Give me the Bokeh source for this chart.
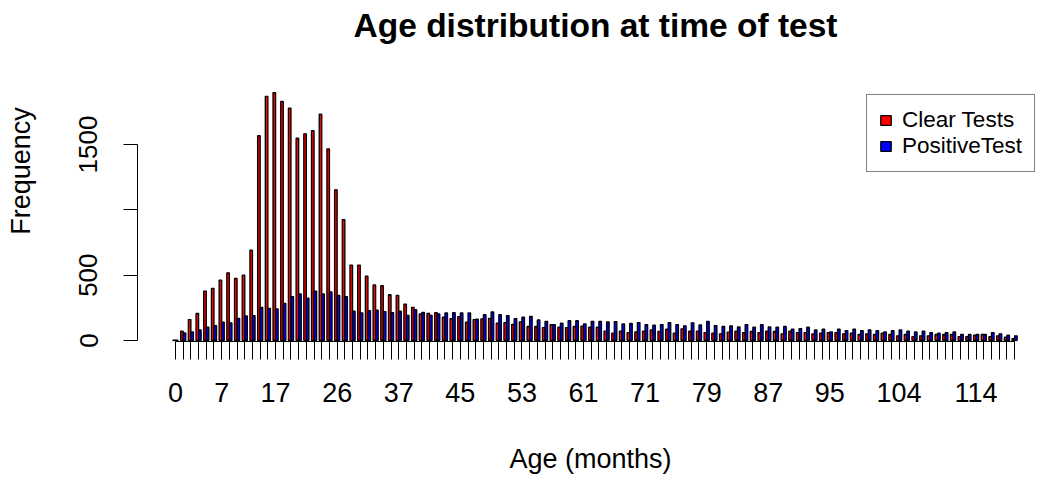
from bokeh.plotting import figure
from bokeh.models import Range1d, FixedTicker, Legend, LegendItem, Label, ColumnDataSource
from bokeh.embed import file_html
from bokeh.resources import INLINE

# ---------------- data ----------------
ages = [0, 1, 2, 3, 4, 6, 7, 8, 10, 11, 13, 14, 16, 17, 18, 19, 20, 21, 23, 24,
        25, 26, 27, 28, 30, 31, 33, 34, 36, 37, 38, 39, 40, 41, 42, 43, 44, 45, 46, 47,
        48, 49, 50, 51, 52, 53, 54, 55, 56, 57, 58, 59, 60, 61, 62, 63, 65, 66, 67, 69,
        70, 71, 72, 73, 74, 75, 76, 77, 78, 79, 80, 81, 82, 83, 84, 85, 86, 87, 88, 89,
        90, 91, 92, 93, 94, 95, 96, 97, 98, 99, 100, 101, 102, 103, 104, 105, 106, 107, 108, 109,
        110, 111, 112, 113, 114, 115, 116, 117, 118, 119]

clear_tests = [3, 71, 160, 208, 378, 399, 462, 518, 475, 500,
               691, 1567, 1869, 1897, 1829, 1778, 1549, 1582, 1605, 1732,
               1466, 1153, 925, 577, 577, 493, 425, 419, 350, 345,
               279, 254, 203, 208, 213, 178, 168, 183, 140, 160,
               165, 170, 132, 137, 124, 142, 107, 107, 99, 122,
               102, 99, 107, 110, 102, 102, 71, 56, 71, 61,
               66, 71, 81, 69, 86, 56, 89, 71, 71, 61,
               56, 51, 64, 71, 61, 69, 61, 71, 69, 51,
               71, 61, 61, 51, 56, 61, 61, 51, 56, 46,
               51, 46, 56, 46, 36, 46, 30, 36, 36, 46,
               46, 46, 30, 30, 41, 46, 30, 36, 25, 15]

positive_test = [2, 58, 66, 81, 102, 114, 140, 135, 170, 188,
                 190, 254, 246, 241, 284, 335, 356, 325, 378, 356,
                 371, 345, 335, 224, 211, 229, 232, 221, 213, 224,
                 193, 236, 216, 193, 203, 211, 213, 211, 211, 163,
                 198, 218, 198, 191, 168, 178, 185, 157, 147, 122,
                 132, 152, 152, 127, 147, 147, 142, 145, 127, 130,
                 137, 122, 117, 122, 137, 122, 112, 135, 119, 147,
                 114, 107, 112, 104, 122, 102, 122, 104, 102, 107,
                 86, 91, 102, 81, 86, 66, 86, 76, 86, 76,
                 81, 76, 66, 76, 81, 71, 66, 71, 61, 56,
                 61, 66, 46, 46, 46, 46, 61, 51, 41, 36]

shown_age_labels = ["0", "7", "17", "26", "37", "45", "53", "61", "71", "79",
                    "87", "95", "104", "114"]
y_ticks = [0, 500, 1000, 1500]
y_hidden = [1000]

series_names = ["Clear Tests", "PositiveTest"]
series_colors = ["red", "blue"]

# ---------------- layout ----------------
W, H = 1043, 478
left = 137
frame_bottom = 341
frame_w = W - left
ppu = 2.566          # pixels per bar unit
x0_px = 175          # canvas x of first group centre
x_start = 2 - (x0_px - left) / ppu
x_end = x_start + frame_w / ppu
py = 0.13067         # pixels per count
zero_px = 340
y_start = -(frame_bottom - zero_px) / py
y_end = zero_px / py

n = len(ages)
centers = [3 * i + 2 for i in range(n)]
src = ColumnDataSource(dict(
    xr=[c - 0.5 for c in centers],
    xb=[c + 0.5 for c in centers],
    clear=clear_tests,
    pos=positive_test,
))

FONT = "Liberation Sans"

p = figure(width=W, height=H, output_backend="svg", toolbar_location=None,
           x_range=Range1d(x_start, x_end), y_range=Range1d(y_start, y_end),
           min_border_left=left, min_border_right=0, min_border_top=0,
           min_border_bottom=H - frame_bottom)
p.outline_line_color = None
p.xgrid.visible = False
p.ygrid.visible = False
p.background_fill_color = "white"
p.border_fill_color = "white"

r1 = p.vbar(x="xr", top="clear", bottom=0, width=1, source=src,
            fill_color=series_colors[0], line_color="black", line_width=1.3)
r2 = p.vbar(x="xb", top="pos", bottom=0, width=1, source=src,
            fill_color=series_colors[1], line_color="black", line_width=1.3)

# x axis
xa = p.xaxis[0]
xa.ticker = FixedTicker(ticks=centers)
xa.major_label_overrides = {c: (str(a) if str(a) in shown_age_labels else "")
                            for c, a in zip(centers, ages)}
xa.bounds = (centers[0], centers[-1])
xa.major_tick_out = 18
xa.major_tick_in = 0
xa.minor_tick_line_color = None
xa.axis_line_color = "black"
xa.major_tick_line_color = "black"
xa.major_label_text_font = FONT
xa.major_label_text_font_size = "27px"
xa.major_label_text_color = "black"
xa.major_label_standoff = 23
xa.axis_label = "Age (months)"
xa.axis_label_text_font = FONT
xa.axis_label_text_font_size = "27px"
xa.axis_label_text_font_style = "normal"
xa.axis_label_text_color = "black"
xa.axis_label_standoff = 39

# y axis
ya = p.yaxis[0]
ya.ticker = FixedTicker(ticks=y_ticks)
ya.major_label_overrides = {t: ("" if t in y_hidden else str(t)) for t in y_ticks}
ya.bounds = (y_ticks[0], y_ticks[-1])
ya.major_tick_out = 14
ya.major_tick_in = 0
ya.minor_tick_line_color = None
ya.axis_line_color = "black"
ya.major_tick_line_color = "black"
ya.major_label_orientation = "vertical"
ya.major_label_text_font = FONT
ya.major_label_text_font_size = "26px"
ya.major_label_text_color = "black"
ya.major_label_standoff = 26
ya.axis_label = "Frequency"
ya.axis_label_text_font = FONT
ya.axis_label_text_font_size = "27px"
ya.axis_label_text_font_style = "normal"
ya.axis_label_text_color = "black"
ya.axis_label_standoff = 41

# title (inside the tall frame, above the data)
title = Label(x=595 - left, y=frame_bottom - 25, x_units="screen", y_units="screen",
              text="Age distribution at time of test", text_align="center",
              text_baseline="alphabetic", text_font=FONT, text_font_size="33.5px",
              text_font_style="bold", text_color="black")
p.add_layout(title)

# legend
legend = Legend(items=[LegendItem(label=series_names[0], renderers=[r1]),
                       LegendItem(label=series_names[1], renderers=[r2])],
                location=(866 - left, frame_bottom - 172), orientation="vertical",
                border_line_color="black", border_line_width=1,
                background_fill_color="white", background_fill_alpha=1,
                label_text_font=FONT, label_text_font_size="22.5px",
                label_text_color="black",
                glyph_width=13, glyph_height=12, label_standoff=10,
                label_height=24, spacing=0, padding=12, margin=0)
p.add_layout(legend, "center")

open("out.html", "w").write(file_html(p, INLINE))
